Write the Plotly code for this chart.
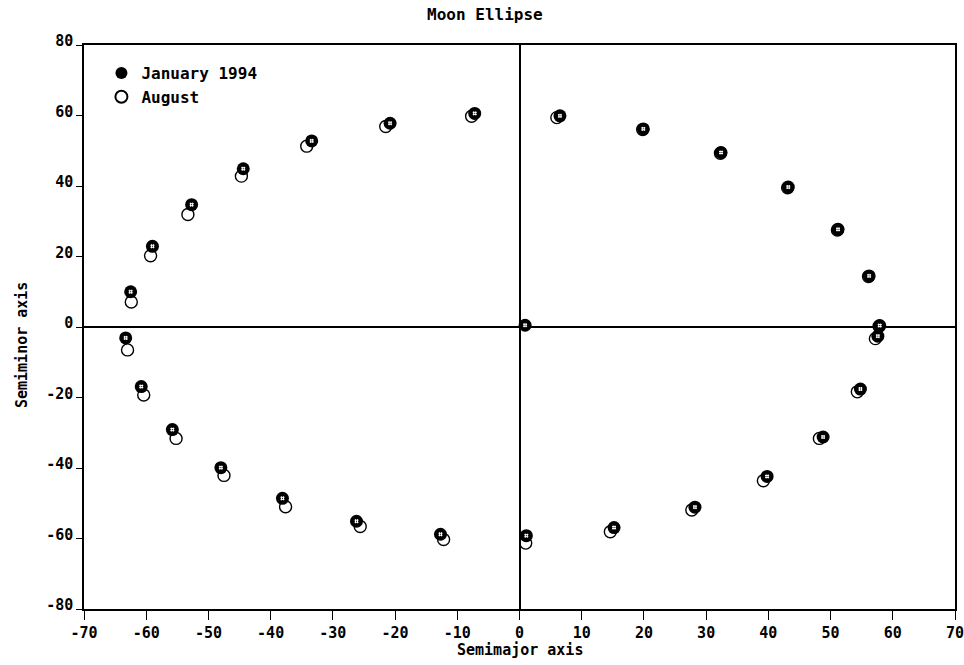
import plotly.graph_objects as go

# January 1994 (filled markers)
jan_x = [-62.5, -59.0, -52.7, -44.4, -33.4, -20.8, -7.2, 6.5, 19.9, 32.4, 43.2, 51.2, 56.2, 57.9,
         57.6, 54.8, 48.8, 39.8, 28.2, 15.2, 1.1, -12.7, -26.2, -38.1, -48.0, -55.8, -60.8, -63.3, 0.9]
jan_y = [10.0, 22.9, 34.7, 44.9, 52.8, 57.8, 60.6, 59.9, 56.2, 49.5, 39.7, 27.7, 14.5, 0.4,
         -2.6, -17.6, -31.2, -42.4, -51.1, -56.9, -59.2, -58.8, -55.1, -48.6, -39.9, -29.1, -16.9, -3.1, 0.5]

# August (open markers)
aug_x = [-62.4, -59.3, -53.3, -44.7, -34.2, -21.5, -7.7, 6.0, 19.8, 32.3, 43.1, 51.1, 56.1, 57.8,
         57.2, 54.3, 48.2, 39.2, 27.7, 14.6, 1.0, -12.2, -25.6, -37.6, -47.5, -55.2, -60.4, -63.0]
aug_y = [7.1, 20.2, 31.9, 42.8, 51.3, 56.9, 59.8, 59.4, 56.0, 49.3, 39.5, 27.5, 14.3, 0.2,
         -3.3, -18.4, -31.6, -43.6, -51.9, -58.1, -61.3, -60.3, -56.6, -51.0, -42.1, -31.6, -19.3, -6.5]

x_ticks = [-70, -60, -50, -40, -30, -20, -10, 0, 10, 20, 30, 40, 50, 60, 70]
y_ticks = [-80, -60, -40, -20, 0, 20, 40, 60, 80]

FONT = "DejaVu Sans Mono"
TXT = dict(family=FONT, size=15, color="black", weight="bold")

fig = go.Figure()

fig.add_trace(go.Scatter(
    x=aug_x, y=aug_y, mode="markers", name="August", legendrank=2,
    marker=dict(symbol="circle-open", size=12, color="black", line=dict(width=1.4, color="black")),
))
fig.add_trace(go.Scatter(
    x=jan_x, y=jan_y, mode="markers", name="January 1994", legendrank=1,
    marker=dict(symbol="circle", size=13, color="black", line=dict(width=0)),
))
fig.add_trace(go.Scatter(
    x=jan_x, y=jan_y, mode="markers", showlegend=False, hoverinfo="skip",
    marker=dict(symbol="hash", size=4, color="white", line=dict(width=1, color="white")),
))

fig.update_layout(
    width=964, height=665,
    margin=dict(l=84, r=9, t=45, b=56),
    paper_bgcolor="white", plot_bgcolor="white",
    font=TXT,
    title=dict(text="Moon Ellipse", x=0.503, xanchor="center", y=0.978, yanchor="middle",
               font=dict(family=FONT, size=16, color="black", weight="bold")),
    showlegend=True,
    legend=dict(x=0.02, y=0.9805, xanchor="left", yanchor="top", bgcolor="rgba(0,0,0,0)",
                font=dict(family=FONT, size=16, color="black", weight="bold"),
                itemsizing="constant", tracegroupgap=2),
    xaxis=dict(
        range=[-70, 70], tickvals=x_ticks, ticktext=[str(v) for v in x_ticks],
        automargin=False, ticklabeloverflow="allow",
        showgrid=False, zeroline=True, zerolinecolor="black", zerolinewidth=1.5,
        showline=True, linecolor="black", linewidth=1.5, mirror=True,
        ticks="outside", ticklen=9, tickwidth=1.2, tickcolor="black",
        tickfont=TXT,
    ),
    yaxis=dict(
        range=[-80, 80], tickvals=y_ticks, ticktext=[str(v) for v in y_ticks],
        automargin=False, ticklabeloverflow="allow",
        showgrid=False, zeroline=True, zerolinecolor="black", zerolinewidth=1.5,
        showline=True, linecolor="black", linewidth=1.5, mirror=True,
        ticks="outside", ticklen=6, tickwidth=1.2, tickcolor="black",
        tickfont=TXT, ticklabelshift=-4,
    ),
    annotations=[
        dict(text="Semimajor axis", x=0.5, y=-0.0727, xref="paper", yref="paper",
             xanchor="center", yanchor="middle", showarrow=False, font=TXT),
        dict(text="Semiminor axis", x=-0.0712, y=0.468, xref="paper", yref="paper",
             xanchor="center", yanchor="middle", textangle=-90, showarrow=False, font=TXT),
    ],
)

fig.write_html("out.html", config={"displayModeBar": False},
               post_script="document.body.style.margin='0px';")
